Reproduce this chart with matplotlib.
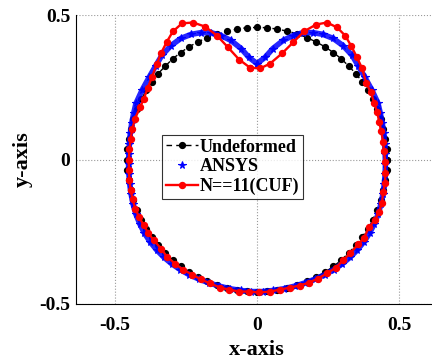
import numpy as np
import matplotlib
matplotlib.use('Agg')
import matplotlib.pyplot as plt

plt.rcParams['font.family'] = ['Liberation Serif', 'DejaVu Serif']
plt.rcParams['font.weight'] = 'bold'
plt.rcParams['axes.unicode_minus'] = False

# undeformed section (black dots)
x_und = [0.457, 0.456, 0.451, 0.444, 0.435, 0.422, 0.407, 0.390, 0.370, 0.348, 0.323, 0.297, 0.269, 0.239, 0.208, 0.175, 0.141, 0.107, 0.072, 0.036, 0.000,
         -0.036, -0.072, -0.107, -0.141, -0.175, -0.208, -0.239, -0.269, -0.297, -0.323, -0.348, -0.370, -0.390, -0.407, -0.422, -0.435, -0.444, -0.451, -0.456, -0.457,
         -0.456, -0.451, -0.444, -0.435, -0.422, -0.407, -0.390, -0.370, -0.348, -0.323, -0.297, -0.269, -0.239, -0.208, -0.175, -0.141, -0.107, -0.072, -0.036, 0.000,
         0.036, 0.072, 0.107, 0.141, 0.175, 0.208, 0.239, 0.269, 0.297, 0.323, 0.348, 0.370, 0.390, 0.407, 0.422, 0.435, 0.444, 0.451, 0.456, 0.457]
y_und = [0.000, 0.036, 0.072, 0.107, 0.141, 0.175, 0.208, 0.239, 0.269, 0.297, 0.323, 0.348, 0.370, 0.390, 0.407, 0.422, 0.435, 0.444, 0.451, 0.456, 0.457,
         0.456, 0.451, 0.444, 0.435, 0.422, 0.407, 0.390, 0.370, 0.348, 0.323, 0.297, 0.269, 0.239, 0.208, 0.175, 0.141, 0.107, 0.072, 0.036, 0.000,
         -0.036, -0.072, -0.107, -0.141, -0.175, -0.208, -0.239, -0.269, -0.297, -0.323, -0.348, -0.370, -0.390, -0.407, -0.422, -0.435, -0.444, -0.451, -0.456, -0.457,
         -0.456, -0.451, -0.444, -0.435, -0.422, -0.407, -0.390, -0.370, -0.348, -0.323, -0.297, -0.269, -0.239, -0.208, -0.175, -0.141, -0.107, -0.072, -0.036, 0.000]

# ANSYS result (blue stars)
x_ans = [0.000, 0.028, 0.056, 0.092, 0.127, 0.162, 0.197, 0.232, 0.268, 0.303, 0.335, 0.356, 0.380, 0.405, 0.426,
         0.434, 0.441, 0.446, 0.449, 0.451, 0.452, 0.451, 0.448, 0.443, 0.436, 0.426, 0.412, 0.396, 0.376, 0.353,
         0.328, 0.300, 0.270, 0.238, 0.204, 0.169, 0.133, 0.096, 0.058, 0.020, -0.020, -0.058, -0.096, -0.133,
         -0.169, -0.204, -0.238, -0.270, -0.300, -0.328, -0.353, -0.376, -0.396, -0.412, -0.426, -0.436, -0.443,
         -0.448, -0.451, -0.452, -0.451, -0.449, -0.446, -0.441, -0.434, -0.426, -0.405, -0.380, -0.356, -0.335,
         -0.303, -0.268, -0.232, -0.197, -0.162, -0.127, -0.092, -0.056, -0.028, 0.000]
y_ans = [0.332, 0.353, 0.384, 0.412, 0.429, 0.439, 0.439, 0.433, 0.419, 0.394, 0.360, 0.325, 0.284, 0.239, 0.194,
         0.160, 0.125, 0.090, 0.055, 0.020, -0.015, -0.050, -0.085, -0.120, -0.155, -0.190, -0.224, -0.255, -0.285, -0.313,
         -0.338, -0.361, -0.381, -0.399, -0.414, -0.427, -0.438, -0.447, -0.453, -0.457, -0.457, -0.453, -0.447, -0.438,
         -0.427, -0.414, -0.399, -0.381, -0.361, -0.338, -0.313, -0.285, -0.255, -0.224, -0.190, -0.155, -0.120,
         -0.085, -0.050, -0.015, 0.020, 0.055, 0.090, 0.125, 0.160, 0.194, 0.239, 0.284, 0.325, 0.360,
         0.394, 0.419, 0.433, 0.439, 0.439, 0.429, 0.412, 0.384, 0.353, 0.332]

# CUF N=11 (red)
x_cuf = [-0.025, 0.011, 0.046, 0.088, 0.127, 0.165, 0.208, 0.246, 0.282, 0.310, 0.331, 0.352, 0.370, 0.384,
         0.401, 0.412, 0.423, 0.430, 0.437, 0.444, 0.447, 0.451, 0.451, 0.451, 0.444, 0.440, 0.430, 0.415, 0.394, 0.377,
         0.356, 0.327, 0.303, 0.278, 0.246, 0.215, 0.183, 0.151, 0.116, 0.081, 0.046, 0.007, -0.028, -0.063,
         -0.099, -0.130, -0.165, -0.197, -0.229, -0.261, -0.289, -0.317, -0.338, -0.363, -0.384,
         -0.398, -0.415, -0.428, -0.438, -0.445, -0.449, -0.451, -0.451, -0.449, -0.445, -0.439, -0.430,
         -0.412, -0.398, -0.384, -0.370, -0.352, -0.338, -0.317, -0.296, -0.264, -0.225, -0.183, -0.141, -0.102, -0.063, -0.025]
y_cuf = [0.318, 0.315, 0.332, 0.367, 0.405, 0.443, 0.467, 0.474, 0.457, 0.429, 0.394, 0.353, 0.315, 0.266,
         0.232, 0.197, 0.163, 0.131, 0.097, 0.062, 0.028, -0.007, -0.045, -0.080, -0.114, -0.149, -0.180, -0.208, -0.235, -0.270,
         -0.294, -0.325, -0.349, -0.374, -0.394, -0.412, -0.426, -0.436, -0.443, -0.450, -0.457, -0.460, -0.457, -0.457,
         -0.450, -0.443, -0.429, -0.415, -0.398, -0.381, -0.360, -0.336, -0.308, -0.280, -0.253,
         -0.228, -0.200, -0.170, -0.138, -0.104, -0.070, -0.035, 0.000, 0.035, 0.070, 0.105, 0.140,
         0.180, 0.211, 0.249, 0.284, 0.332, 0.367, 0.408, 0.443, 0.471, 0.474, 0.460, 0.429, 0.388, 0.346, 0.318]

fig = plt.figure(figsize=(4.32, 3.62), dpi=100)
ax = fig.add_axes([76/432, 58/362, 362/432, 289/362])

ax.plot(x_und, y_und, '--o', color='black', lw=1.0, ms=4.2, dashes=(4, 3), label='Undeformed')
ax.plot(x_ans, y_ans, '-', color='blue', lw=4.0, alpha=0.85)
ax.plot(x_ans, y_ans, '*', color='blue', ms=5.5, mew=0.8, ls='none', label='ANSYS')
ax.plot(x_cuf, y_cuf, '-o', color='red', lw=1.7, ms=4.3, label='N==11(CUF)')

ax.set_xlim(-0.637, 0.637)
ax.set_ylim(-0.5, 0.5)
ax.set_xticks([-0.5, 0, 0.5])
ax.set_yticks([-0.5, 0, 0.5])
ax.set_xticklabels(['-0.5', '0', '0.5'])
ax.set_yticklabels(['-0.5', '0', '0.5'])
ax.tick_params(axis='both', length=0, labelsize=14)
ax.tick_params(axis='x', pad=9)
ax.tick_params(axis='y', pad=4)
ax.grid(True, color='#999999', ls=':', lw=0.8)
ax.spines['top'].set_visible(False)
ax.spines['right'].set_visible(False)

ax.set_xlabel('x-axis', fontsize=16, fontweight='bold')
ax.set_ylabel('y-axis', fontsize=16, fontweight='bold')
ax.xaxis.set_label_coords(0.5, -0.125)
ax.yaxis.set_label_coords(-0.12, 0.5)

leg = ax.legend(loc='upper left', bbox_to_anchor=((162 - 76) / 362, (304 - 135) / 289),
                fontsize=13, frameon=True, fancybox=False, handlelength=1.8,
                borderpad=0.2, labelspacing=0.15, handletextpad=0.1, borderaxespad=0)
leg.get_frame().set_edgecolor('black')
leg.get_frame().set_linewidth(0.8)

plt.savefig('out.png', dpi=100)
